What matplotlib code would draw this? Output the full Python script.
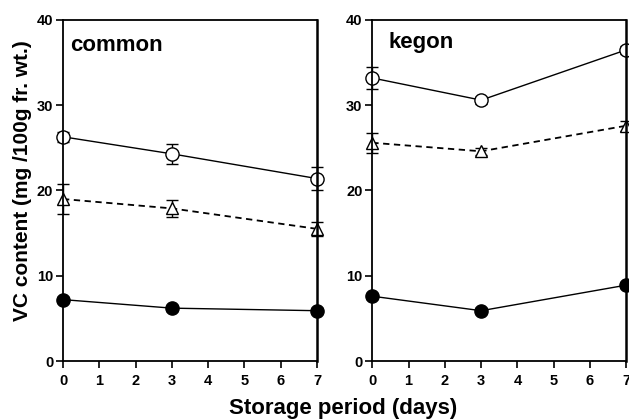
import matplotlib
matplotlib.use("Agg")
import matplotlib.pyplot as plt
from matplotlib.patches import Rectangle

plt.rcParams['font.family'] = ['Liberation Sans', 'DejaVu Sans']
plt.rcParams['font.weight'] = 'bold'

days = [0, 3, 7]
panels = ["common", "kegon"]

common_open = [26.3, 24.3, 21.4]
common_open_err = [0.6, 1.2, 1.4]
common_tri = [19.0, 17.9, 15.5]
common_tri_err = [1.8, 1.0, 0.8]
common_filled = [7.2, 6.2, 5.9]
common_filled_err = [0.3, 0.3, 0.3]

kegon_open = [33.2, 30.6, 36.5]
kegon_open_err = [1.3, 0.4, 0.5]
kegon_tri = [25.6, 24.6, 27.6]
kegon_tri_err = [1.2, 0.4, 0.6]
kegon_filled = [7.6, 5.9, 8.9]
kegon_filled_err = [0.3, 0.3, 0.3]

data = {
    "common": [(common_open, common_open_err), (common_tri, common_tri_err), (common_filled, common_filled_err)],
    "kegon": [(kegon_open, kegon_open_err), (kegon_tri, kegon_tri_err), (kegon_filled, kegon_filled_err)],
}

styles = [
    dict(marker='o', mfc='white', ms=9.5, ls='-', lw=1.0),
    dict(marker='^', mfc='white', ms=9, ls=(0, (3.5, 2.5)), lw=1.3),
    dict(marker='o', mfc='black', ms=9.5, ls='-', lw=1.0),
]

fig = plt.figure(figsize=(6.29, 4.19), dpi=100)
lefts = [63 / 629, 372.3 / 629]
title_x = [0.028, 0.062]
title_y = [0.955, 0.965]
bottom = 1 - 361 / 419
height = 341 / 419
width = 254 / 629

for i, name in enumerate(panels):
    ax = fig.add_axes([lefts[i], bottom, width, height])
    clip = Rectangle((-0.2, -0.2), 1.2, 1.4, transform=ax.transAxes)
    for (vals, errs), st in zip(data[name], styles):
        cont = ax.errorbar(days, vals, yerr=errs, color='black', lw=st['lw'],
                           ls=st['ls'], marker=st['marker'], ms=st['ms'],
                           mfc=st['mfc'], mec='black', mew=1.0,
                           elinewidth=1.0, capsize=4, capthick=1.0, clip_on=False)
        line, caps, bars = cont.lines
        line.set_clip_path(clip)
        for c in caps:
            c.set_clip_path(clip)
        for b in bars:
            b.set_clip_path(clip)
    ax.set_xlim(0, 7)
    ax.set_ylim(0, 40)
    ax.set_xticks(range(8))
    ax.set_yticks([0, 10, 20, 30, 40])
    ax.tick_params(axis='both', direction='out', length=5, width=1.2,
                   labelsize=10.5, pad=2)
    ax.tick_params(axis='x', pad=4)
    for lab in ax.get_xticklabels() + ax.get_yticklabels():
        lab.set_fontweight('bold')
    for sp in ax.spines.values():
        sp.set_linewidth(1.3)
    ax.spines['right'].set_linewidth(1.8)
    ax.text(title_x[i], title_y[i], name, transform=ax.transAxes, fontsize=16,
            fontweight='bold', va='top', ha='left')

fig.text(0.035, 0.57, "VC content (mg /100g fr. wt.)", rotation=90,
         fontsize=15, fontweight='bold', ha='center', va='center')
fig.text(0.545, 0.026, "Storage period (days)", fontsize=16,
         fontweight='bold', ha='center', va='center')

fig.savefig("out.png", dpi=100)
